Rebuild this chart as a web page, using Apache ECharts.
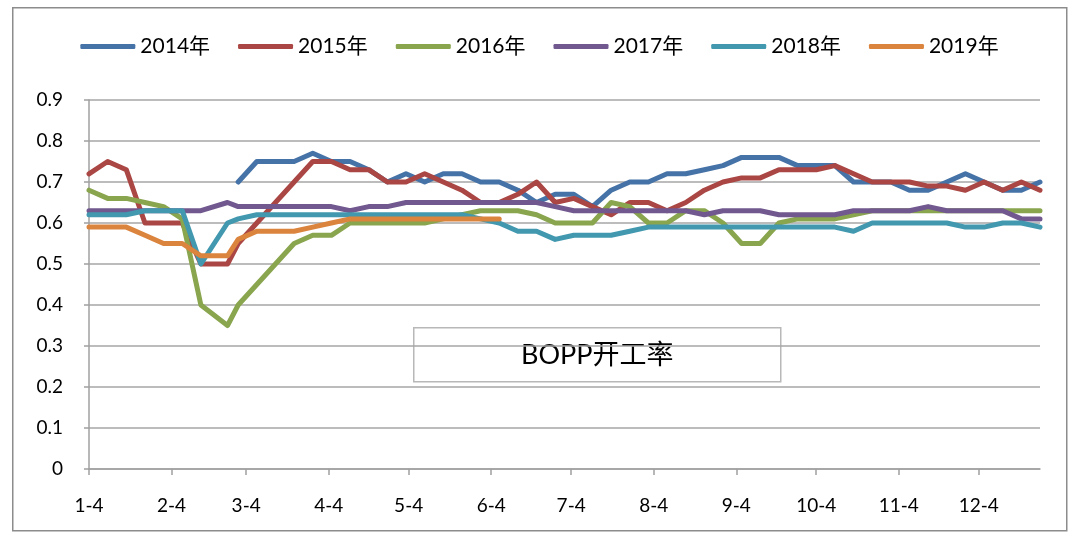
<!DOCTYPE html>
<html lang="zh">
<head>
<meta charset="utf-8">
<title>BOPP开工率</title>
<style>
  html, body { margin: 0; padding: 0; background: #fff; }
  #chart { width: 1079px; height: 536px; }
</style>
</head>
<body>
<div id="chart"></div>
<script src="https://cdn.jsdelivr.net/npm/echarts@6.0.0/dist/echarts.min.js"></script>
<script>
// weekly dates shared by every year
var dates = ['1-4','1-11','1-18','1-25','2-1','2-8','2-15','2-25','3-1','3-8','3-15','3-22','3-29',
  '4-5','4-12','4-19','4-26','5-3','5-10','5-17','5-24','5-31','6-7','6-14','6-21','6-28',
  '7-5','7-12','7-19','7-26','8-2','8-9','8-16','8-23','8-30','9-6','9-13','9-20','9-27',
  '10-4','10-11','10-18','10-25','11-1','11-8','11-15','11-22','11-29','12-6','12-13','12-20','12-27'];
var tickLabels = ['1-4','2-4','3-4','4-4','5-4','6-4','7-4','8-4','9-4','10-4','11-4','12-4'];

var y2014 = [null,null,null,null,null,null,null,null,
  0.70,0.75,0.75,0.75,0.77,0.75,0.75,0.73,0.70,0.72,0.70,0.72,0.72,0.70,0.70,0.68,0.65,0.67,0.67,0.64,
  0.68,0.70,0.70,0.72,0.72,0.73,0.74,0.76,0.76,0.76,0.74,0.74,0.74,0.70,0.70,0.70,0.68,0.68,0.70,0.72,
  0.70,0.68,0.68,0.70];
var y2015 = [0.72,0.75,0.73,0.60,0.60,0.60,0.50,0.50,0.55,0.60,0.65,0.70,0.75,0.75,0.73,0.73,0.70,0.70,
  0.72,0.70,0.68,0.65,0.65,0.67,0.70,0.65,0.66,0.64,0.62,0.65,0.65,0.63,0.65,0.68,0.70,0.71,0.71,0.73,
  0.73,0.73,0.74,0.72,0.70,0.70,0.70,0.69,0.69,0.68,0.70,0.68,0.70,0.68];
var y2016 = [0.68,0.66,0.66,0.65,0.64,0.61,0.40,0.35,0.40,0.45,0.50,0.55,0.57,0.57,0.60,0.60,0.60,0.60,
  0.60,0.61,0.62,0.63,0.63,0.63,0.62,0.60,0.60,0.60,0.65,0.64,0.60,0.60,0.63,0.63,0.60,0.55,0.55,0.60,
  0.61,0.61,0.61,0.62,0.63,0.63,0.63,0.63,0.63,0.63,0.63,0.63,0.63,0.63];
var y2017 = [0.63,0.63,0.63,0.63,0.63,0.63,0.63,0.65,0.64,0.64,0.64,0.64,0.64,0.64,0.63,0.64,0.64,0.65,
  0.65,0.65,0.65,0.65,0.65,0.65,0.65,0.64,0.63,0.63,0.63,0.63,0.63,0.63,0.63,0.62,0.63,0.63,0.63,0.62,
  0.62,0.62,0.62,0.63,0.63,0.63,0.63,0.64,0.63,0.63,0.63,0.63,0.61,0.61];
var y2018 = [0.62,0.62,0.62,0.63,0.63,0.63,0.50,0.60,0.61,0.62,0.62,0.62,0.62,0.62,0.62,0.62,0.62,0.62,
  0.62,0.62,0.62,0.61,0.60,0.58,0.58,0.56,0.57,0.57,0.57,0.58,0.59,0.59,0.59,0.59,0.59,0.59,0.59,0.59,
  0.59,0.59,0.59,0.58,0.60,0.60,0.60,0.60,0.60,0.59,0.59,0.60,0.60,0.59];
var y2019 = [0.59,0.59,0.59,0.57,0.55,0.55,0.52,0.52,0.56,0.58,0.58,0.58,0.59,0.60,0.61,0.61,0.61,0.61,
  0.61,0.61,0.61,0.61,0.61];

var seriesNames = ['2014年','2015年','2016年','2017年','2018年','2019年'];
var seriesData = [y2014, y2015, y2016, y2017, y2018, y2019];
var colors = ['#4572A7','#AA4643','#89A54E','#71588F','#4198AF','#DB843D'];

// days since 1-4
function dayOf(md) {
    var p = md.split('-');
    return (Date.UTC(2019, +p[0] - 1, +p[1]) - Date.UTC(2019, 0, 4)) / 86400000;
}
var tickDays = tickLabels.map(dayOf);

var font = 'Lato, "Noto Sans CJK SC", sans-serif';
var chart = echarts.init(document.getElementById('chart'));
chart.setOption({
    animation: false,
    color: colors,
    legend: {
        top: 31,
        left: 'center',
        itemWidth: 55,
        itemHeight: 5,
        itemGap: 28,
        icon: 'roundRect',
        textStyle: { fontFamily: font, fontSize: 21, color: '#000' },
        data: seriesNames
    },
    grid: { left: 89, right: 39, top: 100, bottom: 67 },
    xAxis: {
        type: 'value',
        min: 0,
        max: dayOf(dates[dates.length - 1]),
        splitLine: { show: false },
        axisLine: { lineStyle: { color: '#a0a0a0', width: 1.5 } },
        axisTick: { show: true, length: 6, customValues: tickDays, lineStyle: { color: '#a0a0a0', width: 1.5 } },
        axisLabel: {
            customValues: tickDays,
            margin: 27,
            fontFamily: font, fontSize: 19, color: '#000',
            formatter: function (v) { return tickLabels[tickDays.indexOf(v)]; }
        }
    },
    yAxis: {
        type: 'value',
        min: 0,
        max: 0.9,
        interval: 0.1,
        axisLine: { show: true, lineStyle: { color: '#a0a0a0', width: 1.5 } },
        axisTick: { show: true, length: 5, lineStyle: { color: '#a0a0a0', width: 1.5 } },
        splitLine: { lineStyle: { color: '#a6a6a6', width: 1.5 } },
        axisLabel: {
            margin: 26,
            fontFamily: font, fontSize: 19, color: '#000',
            formatter: function (v) { return String(+v.toFixed(1)); }
        }
    },
    graphic: [
        {
            type: 'rect', left: 12, top: 7, z: -10,
            shape: { width: 1054, height: 523 },
            style: { fill: '#fff', stroke: '#8c8c8c', lineWidth: 1.5 }
        },
        {
            type: 'group', left: 413, top: 327, z: 100,
            children: [
                { type: 'rect', shape: { width: 367, height: 54 },
                  style: { fill: '#fff', stroke: '#b8b8b8', lineWidth: 1.5 } },
                { type: 'text', x: 183.5, y: 28,
                  style: { text: 'BOPP开工率', fontFamily: font, fontSize: 27, fill: '#000',
                           align: 'center', verticalAlign: 'middle' } }
            ]
        }
    ],
    series: seriesData.map(function (vals, k) {
        return {
            name: seriesNames[k],
            type: 'line',
            showSymbol: false,
            symbol: 'none',
            connectNulls: false,
            lineStyle: { width: 5, color: colors[k], join: 'round', cap: 'round' },
            data: vals.map(function (v, i) { return [dayOf(dates[i]), v]; })
        };
    })
});
</script>
</body>
</html>
